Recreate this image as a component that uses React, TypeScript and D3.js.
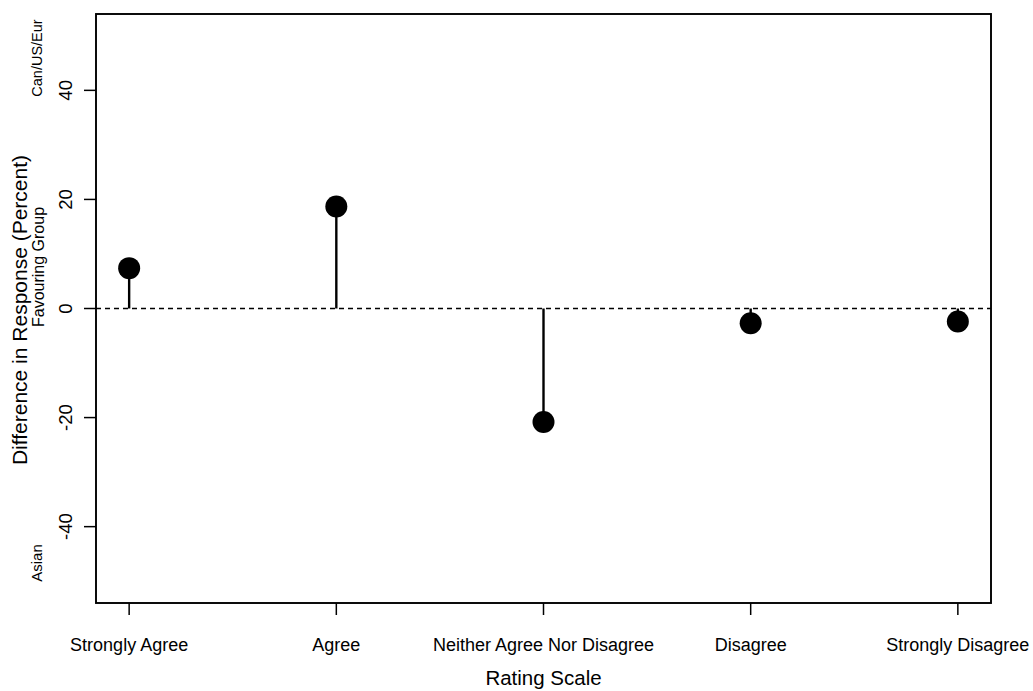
import React from "react";
import * as d3 from "d3";

const categories: string[] = [
  "Strongly Agree",
  "Agree",
  "Neither Agree Nor Disagree",
  "Disagree",
  "Strongly Disagree",
];
const differences: number[] = [7.4, 18.7, -20.8, -2.7, -2.4];
const yTicks: number[] = [-40, -20, 0, 20, 40];

const W = 1033;
const H = 691;
const left = 96;
const right = 991;
const top = 14;
const bottom = 603;
const FONT = "'Liberation Sans', Arial, Helvetica, sans-serif";

export default function App() {
  const x = d3.scaleLinear().domain([0.84, 5.16]).range([left, right]);
  const y = d3.scaleLinear().domain([-54, 54]).range([bottom, top]);
  const idx = categories.map((_, i) => i + 1);

  return (
    <svg
      width={W}
      height={H}
      style={{ position: "absolute", left: 0, top: 0, background: "#fff" }}
      fontFamily={FONT}
    >
      <rect x={0} y={0} width={W} height={H} fill="#fff" />
      {/* frame */}
      <rect
        x={left}
        y={top}
        width={right - left}
        height={bottom - top}
        fill="none"
        stroke="#000"
        strokeWidth={1.9}
      />
      {/* zero reference line */}
      <line
        x1={left}
        x2={right}
        y1={y(0)}
        y2={y(0)}
        stroke="#000"
        strokeWidth={1.4}
        strokeDasharray="5,4"
      />
      {/* stems */}
      {differences.map((v, i) => (
        <line
          key={"s" + i}
          x1={x(idx[i])}
          x2={x(idx[i])}
          y1={y(0)}
          y2={y(v)}
          stroke="#000"
          strokeWidth={2.4}
        />
      ))}
      {/* points */}
      {differences.map((v, i) => (
        <circle key={"p" + i} cx={x(idx[i])} cy={y(v)} r={11} fill="#000" />
      ))}
      {/* y axis ticks */}
      {yTicks.map((t) => (
        <g key={"yt" + t}>
          <line x1={left - 12} x2={left} y1={y(t)} y2={y(t)} stroke="#000" strokeWidth={1.5} />
          <text
            transform={`translate(72,${y(t)}) rotate(-90)`}
            textAnchor="middle"
            fontSize={18.5}
            fill="#000"
          >
            {t}
          </text>
        </g>
      ))}
      {/* x axis ticks */}
      {categories.map((c, i) => (
        <g key={"xt" + i}>
          <line
            x1={x(idx[i])}
            x2={x(idx[i])}
            y1={bottom}
            y2={bottom + 12}
            stroke="#000"
            strokeWidth={1.5}
          />
          <text x={x(idx[i])} y={651} textAnchor="middle" fontSize={18} fill="#000">
            {c}
          </text>
        </g>
      ))}
      {/* axis titles */}
      <text x={(left + right) / 2} y={685} textAnchor="middle" fontSize={20.5} fill="#000">
        Rating Scale
      </text>
      <text
        transform={`translate(27,${(top + bottom) / 2 + 1.5}) rotate(-90)`}
        textAnchor="middle"
        fontSize={21}
        fill="#000"
      >
        Difference in Response (Percent)
      </text>
      <text
        transform={`translate(43.5,267) rotate(-90)`}
        textAnchor="middle"
        fontSize={16}
        fill="#000"
      >
        Favouring Group
      </text>
      <text
        transform={`translate(42,58) rotate(-90)`}
        textAnchor="middle"
        fontSize={14.5}
        fill="#000"
      >
        Can/US/Eur
      </text>
      <text
        transform={`translate(42,563) rotate(-90)`}
        textAnchor="middle"
        fontSize={15}
        fill="#000"
      >
        Asian
      </text>
    </svg>
  );
}
